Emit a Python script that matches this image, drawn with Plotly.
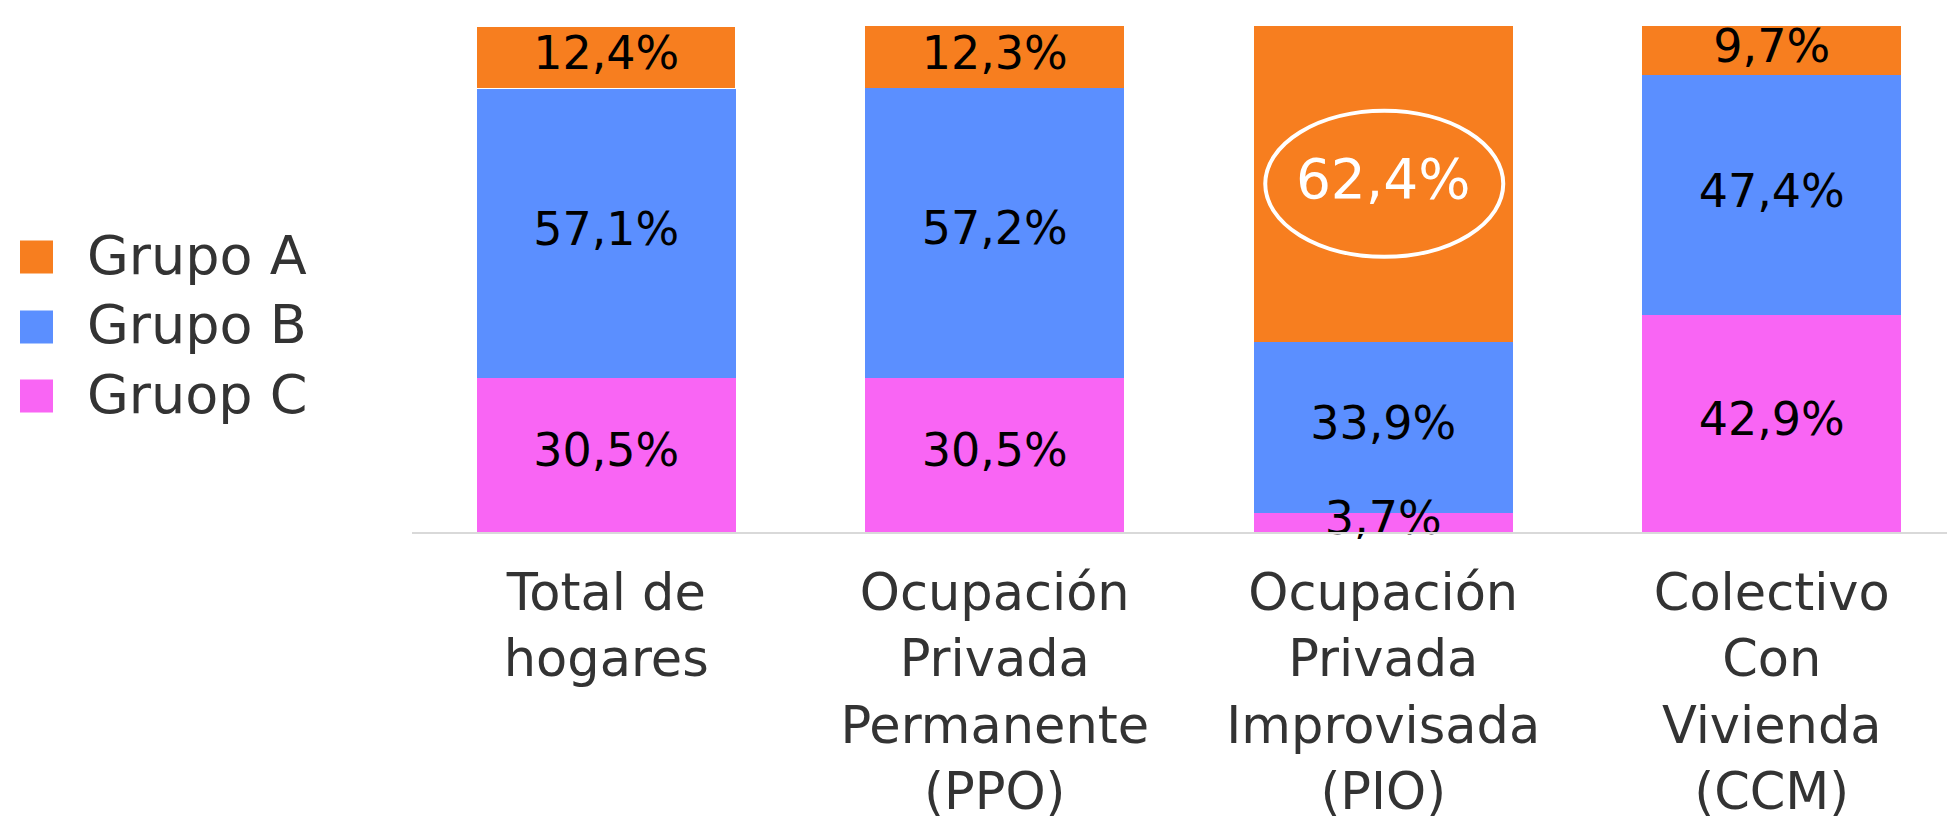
import plotly.graph_objects as go

categories = [
    "Total de<br>hogares",
    "Ocupación<br>Privada<br>Permanente<br>(PPO)",
    "Ocupación<br>Privada<br>Improvisada<br>(PIO)",
    "Colectivo<br>Con<br>Vivienda<br>(CCM)",
]
series_names = ["Grupo A", "Grupo B", "Gruop C"]
grupo_a = [12.4, 12.3, 62.4, 9.7]
grupo_b = [57.1, 57.2, 33.9, 47.4]
grupo_c = [30.5, 30.5, 3.7, 42.9]
highlight_index = 2  # PIO, Grupo A circled

colors = {"Grupo A": "#F77E1F", "Grupo B": "#5B8FFF", "Gruop C": "#F965F4"}
FONT = "DejaVu Sans"

# plot geometry (pixels)
W, H = 1947, 820
L, R, T, B = 412, 0, 26, 288
PW, PH = W - L - R, H - T - B
step = 388.5


def fmt(v):
    return f"{v:.1f}%".replace(".", ",")


def px_to_paper_x(px):
    return (px - L) / PW


def px_to_paper_y(py):
    return (H - B - py) / PH


fig = go.Figure()
stack = [("Gruop C", grupo_c), ("Grupo B", grupo_b), ("Grupo A", grupo_a)]
base = [0.0] * len(categories)
labels = []
for name, vals in stack:
    lw = [0] * len(vals)
    if name == "Grupo A":
        lw[0] = 1.5
    fig.add_trace(go.Bar(
        name=name,
        x=categories,
        y=vals,
        marker=dict(color=colors[name], line=dict(color="white", width=lw)),
        showlegend=False,
        hoverinfo="skip",
    ))
    mids = [b + v / 2 for b, v in zip(base, vals)]
    labels.append((name, vals, mids))
    base = [b + v for b, v in zip(base, vals)]

# value labels drawn above all bars
for name, vals, mids in labels:
    tcolors = ["black"] * len(vals)
    tsizes = [46] * len(vals)
    if name == "Grupo A":
        tcolors[highlight_index] = "white"
        tsizes[highlight_index] = 55
    fig.add_trace(go.Scatter(
        x=categories, y=mids, mode="text",
        text=[fmt(v) for v in vals],
        textposition="middle center",
        textfont=dict(family=FONT, size=tsizes, color=tcolors),
        cliponaxis=False, showlegend=False, hoverinfo="skip",
    ))

# highlight ellipse around the circled value
yc = grupo_c[highlight_index] + grupo_b[highlight_index] + grupo_a[highlight_index] / 2
fig.add_shape(
    type="circle", xref="x", yref="y",
    xsizemode="pixel", ysizemode="pixel",
    xanchor=highlight_index, yanchor=yc,
    x0=-118, x1=120, y0=-73, y1=73,
    line=dict(color="white", width=4),
)

# manual legend
leg_y = [257, 327, 396]
for name, py in zip(series_names, leg_y):
    fig.add_shape(
        type="rect", xref="paper", yref="paper",
        x0=px_to_paper_x(20), x1=px_to_paper_x(53),
        y0=px_to_paper_y(py + 16.5), y1=px_to_paper_y(py - 16.5),
        fillcolor=colors[name], line=dict(width=0),
    )
    fig.add_annotation(
        x=px_to_paper_x(85), y=px_to_paper_y(py - 2), xref="paper", yref="paper",
        text=name, showarrow=False, xanchor="left", yanchor="middle",
        font=dict(family=FONT, size=54, color="#333333"),
    )

fig.update_layout(
    barmode="stack",
    bargap=0.333,
    width=W, height=H,
    margin=dict(l=L, r=R, t=T, b=B, pad=0, autoexpand=False),
    plot_bgcolor="white", paper_bgcolor="white",
    font=dict(family=FONT, color="#333333"),
)
fig.update_xaxes(
    range=[-0.5, -0.5 + PW / step],
    automargin=False,
    showline=True, linecolor="#D9D9D9", linewidth=1.5,
    showgrid=False, ticks="",
    tickfont=dict(family=FONT, size=51, color="#333333"),
    ticklabelstandoff=15,
)
fig.update_yaxes(range=[0, 100], visible=False, showgrid=False,
                 zeroline=False, automargin=False)

fig.write_html(
    "out.html",
    config={"displayModeBar": False},
    post_script="document.body.style.margin='0';document.body.style.overflow='hidden';",
)
